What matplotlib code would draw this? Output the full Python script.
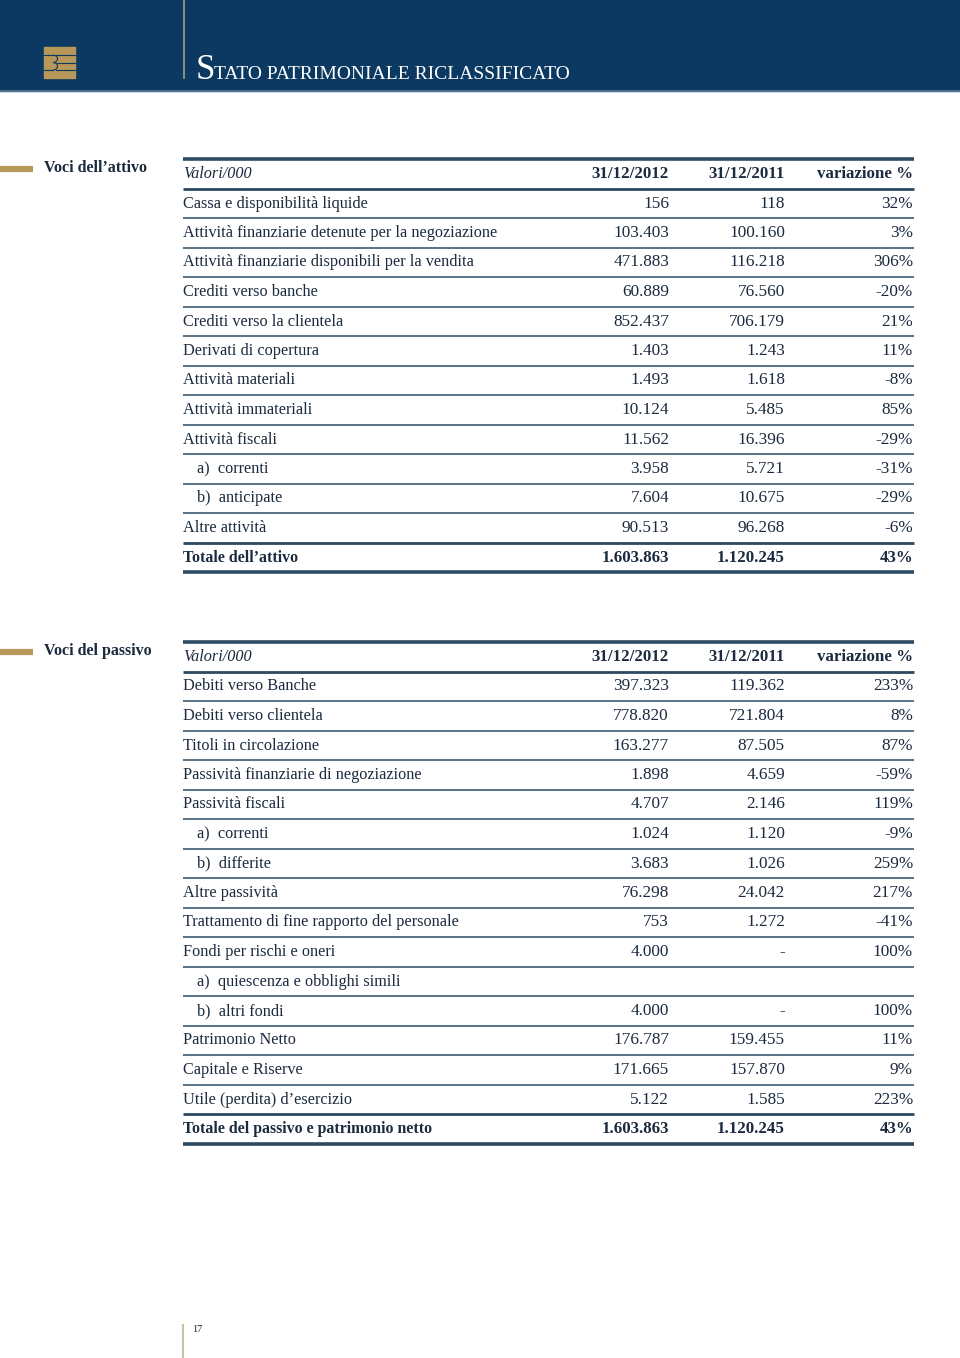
import matplotlib.pyplot as plt
import matplotlib.patches as mpatches
from matplotlib.patches import Arc

# dati: voci dell'attivo
attivo_voci = ['Cassa e disponibilità liquide',
               'Attività finanziarie detenute per la negoziazione',
               'Attività finanziarie disponibili per la vendita',
               'Crediti verso banche',
               'Crediti verso la clientela',
               'Derivati di copertura',
               'Attività materiali',
               'Attività immateriali',
               'Attività fiscali',
               'a)  correnti',
               'b)  anticipate',
               'Altre attività']
attivo_2012 = ['156', '103.403', '471.883', '60.889', '852.437', '1.403', '1.493',
               '10.124', '11.562', '3.958', '7.604', '90.513']
attivo_2011 = ['118', '100.160', '116.218', '76.560', '706.179', '1.243', '1.618',
               '5.485', '16.396', '5.721', '10.675', '96.268']
attivo_var = ['32%', '3%', '306%', '-20%', '21%', '11%', '-8%', '85%', '-29%',
              '-31%', '-29%', '-6%']
attivo_totale = ['Totale dell\u2019attivo', '1.603.863', '1.120.245', '43%']

# dati: voci del passivo
passivo_voci = ['Debiti verso Banche',
                'Debiti verso clientela',
                'Titoli in circolazione',
                'Passività finanziarie di negoziazione',
                'Passività fiscali',
                'a)  correnti',
                'b)  differite',
                'Altre passività',
                'Trattamento di fine rapporto del personale',
                'Fondi per rischi e oneri',
                'a)  quiescenza e obblighi simili',
                'b)  altri fondi',
                'Patrimonio Netto',
                'Capitale e Riserve',
                'Utile (perdita) d\u2019esercizio']
passivo_2012 = ['397.323', '778.820', '163.277', '1.898', '4.707', '1.024', '3.683',
                '76.298', '753', '4.000', '', '4.000', '176.787', '171.665', '5.122']
passivo_2011 = ['119.362', '721.804', '87.505', '4.659', '2.146', '1.120', '1.026',
                '24.042', '1.272', '-', '', '-', '159.455', '157.870', '1.585']
passivo_var = ['233%', '8%', '87%', '-59%', '119%', '-9%', '259%', '217%', '-41%',
               '100%', '', '100%', '11%', '9%', '223%']
passivo_totale = ['Totale del passivo e patrimonio netto', '1.603.863', '1.120.245', '43%']

intestazione = ['Valori/000', '31/12/2012', '31/12/2011', 'variazione %']

navy = '#0b3961'
gold = '#b8975a'
testo = '#1b2a3e'
linea = '#2c4a62'
font = 'Liberation Serif'
fs = 11.7      # etichette
fs_num = 12.4  # numeri
fs_b = 12.2    # grassetto

fig = plt.figure(figsize=(9.6, 13.58), dpi=100)
ax = fig.add_axes([0, 0, 1, 1])
ax.set_xlim(0, 960)
ax.set_ylim(1358, 0)
ax.axis('off')

# testata blu
ax.add_patch(mpatches.Rectangle((0, 0), 960, 91, color=navy, zorder=1))
ax.plot([0, 960], [90.5, 90.5], color='#5b7d99', lw=1.2, zorder=2)
ax.plot([184, 184], [0, 78], color='#a59f86', lw=1.2, zorder=2)

# logo
ax.add_patch(mpatches.Rectangle((44, 47), 31, 31, color=gold, zorder=2))
for yy in [55, 62.5, 70]:
    ax.plot([56, 75], [yy, yy], color=navy, lw=0.8, zorder=3)
ax.add_patch(Arc((53, 58.8), 9, 7.5, theta1=-90, theta2=90, color=navy, lw=0.8, zorder=3))
ax.add_patch(Arc((53, 66.3), 9, 7.5, theta1=-90, theta2=90, color=navy, lw=0.8, zorder=3))
ax.plot([44, 53], [55, 55], color=navy, lw=0.8, zorder=3)
ax.plot([44, 53], [70, 70], color=navy, lw=0.8, zorder=3)

# titolo in maiuscoletto
ax.text(196, 79, 'S', color='white', fontsize=25, family=font, va='baseline', zorder=3)
ax.text(214, 79, 'TATO PATRIMONIALE RICLASSIFICATO', color='white', fontsize=14,
        family=font, va='baseline', zorder=3)

x0, x1 = 183, 914
col_x = [669, 785, 913]
passo = 29.5


def tabella(y_top, titolo, voci, v1, v2, v3, totale):
    # barretta dorata e titolo sezione
    ax.plot([0, 33], [y_top + 10, y_top + 10], color=gold, lw=4.5, solid_capstyle='butt')
    ax.text(44, y_top + 9, titolo, color=testo, fontsize=11.5, family=font,
            fontweight='bold', va='center')
    ax.plot([x0, x1], [y_top, y_top], color=linea, lw=2.6, solid_capstyle='butt')
    # intestazione
    yc = y_top + 15
    ax.text(x0, yc, intestazione[0], color=testo, fontsize=fs, family=font,
            style='italic', va='center')
    for cx, s in zip(col_x, intestazione[1:]):
        ax.text(cx, yc, s, color=testo, fontsize=fs_b, family=font, fontweight='bold',
                va='center', ha='right')
    ax.plot([x0, x1], [y_top + passo, y_top + passo], color=linea, lw=2.0,
            solid_capstyle='butt')
    for i, voce in enumerate(voci):
        yc = y_top + passo * (i + 1) + 15
        xv = x0 + 14 if voce[:2] in ('a)', 'b)') else x0
        ax.text(xv, yc, voce, color=testo, fontsize=fs, family=font, va='center')
        for cx, s in zip(col_x, [v1[i], v2[i], v3[i]]):
            ax.text(cx, yc, s, color=testo, fontsize=fs_num, family=font, va='center',
                    ha='right')
        yl = y_top + passo * (i + 2)
        if i < len(voci) - 1:
            ax.plot([x0, x1], [yl, yl], color=linea, lw=1.1, solid_capstyle='butt')
        else:
            ax.plot([x0, x1], [yl, yl], color=linea, lw=2.0, solid_capstyle='butt')
    n = len(voci) + 1
    yc = y_top + passo * n + 15
    ax.text(x0, yc, totale[0], color=testo, fontsize=11.4, family=font,
            fontweight='bold', va='center')
    for cx, s in zip(col_x, totale[1:]):
        ax.text(cx, yc, s, color=testo, fontsize=fs_b, family=font, fontweight='bold',
                va='center', ha='right')
    yl = y_top + passo * (n + 1)
    ax.plot([x0, x1], [yl, yl], color=linea, lw=2.6, solid_capstyle='butt')


tabella(159, 'Voci dell\u2019attivo', attivo_voci, attivo_2012, attivo_2011,
        attivo_var, attivo_totale)
tabella(642, 'Voci del passivo', passivo_voci, passivo_2012, passivo_2011,
        passivo_var, passivo_totale)

# numero di pagina
ax.plot([183, 183], [1325, 1358], color='#c9c3a6', lw=1.5)
ax.text(192, 1330, '17', color=testo, fontsize=7.5, family=font, va='center')

fig.savefig('out.png', dpi=100)
